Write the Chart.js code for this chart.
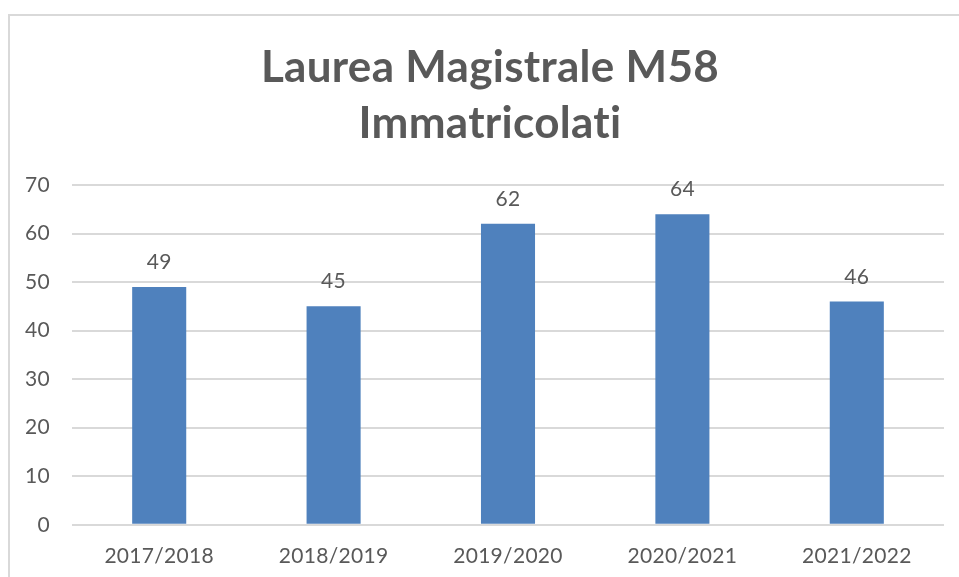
<!DOCTYPE html>
<html>
<head>
<meta charset="utf-8">
<script src="https://cdn.jsdelivr.net/npm/chart.js@4/dist/chart.umd.min.js"></script>
<style>
  html, body { margin: 0; padding: 0; background: #fff; }
  body { width: 959px; height: 577px; position: relative; overflow: hidden; }
  .frame { position: absolute; left: 8px; top: 14px; width: 960px; height: 580px;
           border-left: 2px solid #d9d9d9; border-top: 2px solid #d9d9d9; }
  #chart { position: absolute; left: 0; top: 0; }
</style>
</head>
<body>
<div class="frame"></div>
<canvas id="chart" width="959" height="577"></canvas>
<script>
// ========== DATA ==========
const years = ['2017/2018', '2018/2019', '2019/2020', '2020/2021', '2021/2022'];
const enrolled = [49, 45, 62, 64, 46];
const titleLines = ['Laurea Magistrale M58', 'Immatricolati'];

const FONT = 'Lato, "Open Sans", sans-serif';
const GRAY = '#595959';

// title: the original frame is wider than the window, so it is centred a bit right
const chartTitle = {
    id: 'chartTitle',
    beforeDraw(chart) {
        const c = chart.ctx;
        c.letterSpacing = '0.3px'; // also stops the "ti" ligature
        c.save();
        c.font = 'bold 44px ' + FONT;
        c.fillStyle = GRAY;
        c.textAlign = 'center';
        c.textBaseline = 'alphabetic';
        titleLines.forEach((line, i) => c.fillText(line, 490, 82 + i * 56));
        c.restore();
    }
};

// value labels above each bar
const valueLabels = {
    id: 'valueLabels',
    afterDatasetsDraw(chart) {
        const c = chart.ctx;
        const meta = chart.getDatasetMeta(0);
        c.save();
        c.font = '21px ' + FONT;
        c.fillStyle = GRAY;
        c.textAlign = 'center';
        c.textBaseline = 'alphabetic';
        meta.data.forEach((bar, i) => {
            c.fillText(enrolled[i], bar.x, bar.y - 18);
        });
        c.restore();
    }
};

const ctx = document.getElementById('chart').getContext('2d');
new Chart(ctx, {
    type: 'bar',
    data: {
        labels: years,
        datasets: [{
            data: enrolled,
            backgroundColor: '#4f81bd',
            categoryPercentage: 1,
            barPercentage: 0.31
        }]
    },
    options: {
        responsive: false,
        animation: false,
        layout: { padding: { left: 0, right: 15, top: 185, bottom: -3 } },
        plugins: {
            legend: { display: false },
            tooltip: { enabled: false },
            title: { display: false }
        },
        scales: {
            x: {
                grid: { display: false },
                border: { display: false },
                ticks: { color: GRAY, font: { family: FONT, size: 21 }, padding: 11, maxRotation: 0 }
            },
            y: {
                min: 0,
                max: 70,
                afterFit(axis) { axis.width = 72; },
                grid: { color: '#d9d9d9', lineWidth: 2, drawTicks: false },
                border: { display: false },
                ticks: { stepSize: 10, color: GRAY, font: { family: FONT, size: 21 }, padding: 22 }
            }
        }
    },
    plugins: [chartTitle, valueLabels]
});
</script>
</body>
</html>
